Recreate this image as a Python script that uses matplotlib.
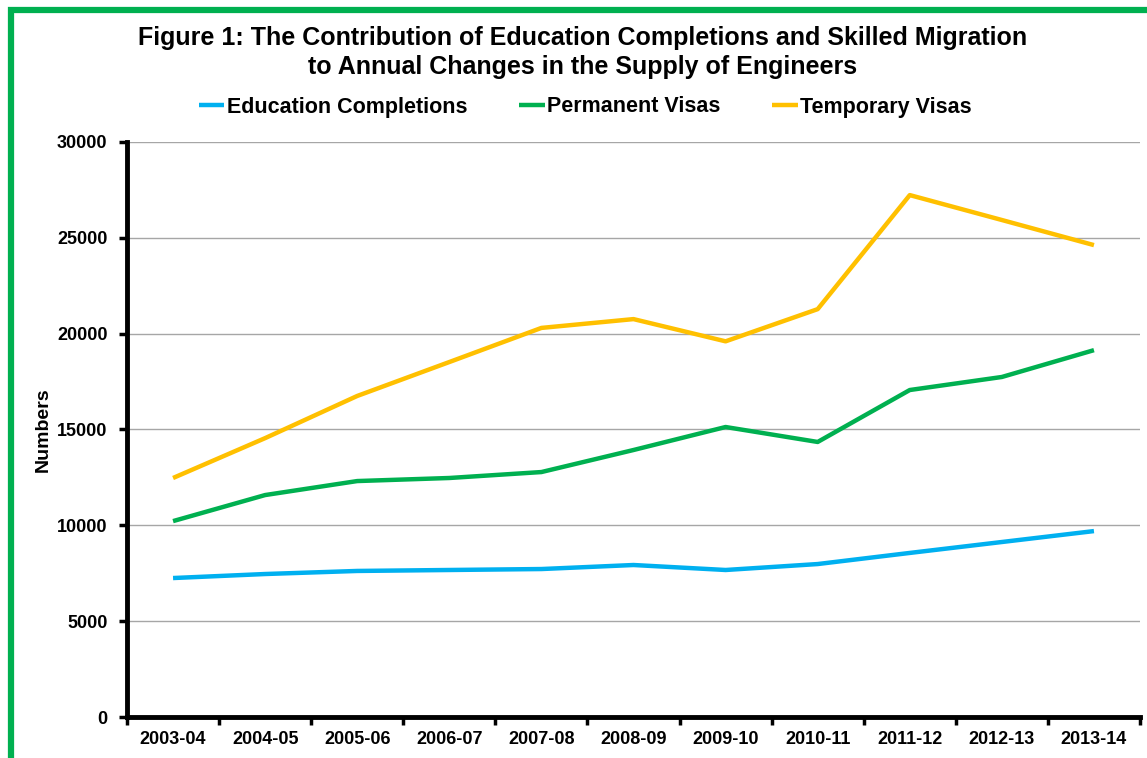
import matplotlib.pyplot as plt
from matplotlib.patches import Rectangle

plt.rcParams['font.family'] = ['Liberation Sans', 'DejaVu Sans']
plt.rcParams['font.weight'] = 'bold'

years = ["2003-04", "2004-05", "2005-06", "2006-07", "2007-08", "2008-09",
         "2009-10", "2010-11", "2011-12", "2012-13", "2013-14"]
education = [7250, 7460, 7620, 7670, 7720, 7930, 7670, 7980, 8560, 9130, 9700]
permanent = [10220, 11580, 12310, 12470, 12780, 13930, 15130, 14350, 17060, 17740, 19140]
temporary = [12470, 14550, 16750, 18520, 20300, 20760, 19600, 21280, 27230, 25930, 24620]

fig = plt.figure(figsize=(11.47, 7.58), dpi=100)
ax = fig.add_axes([127 / 1147, 1 - 717 / 758, (1140 - 127) / 1147, (717 - 142) / 758])

x = range(len(years))
ax.plot(x, education, color='#00B0F0', lw=3.2, label='Education Completions', solid_capstyle='butt')
ax.plot(x, permanent, color='#00B050', lw=3.2, label='Permanent Visas', solid_capstyle='butt')
ax.plot(x, temporary, color='#FFC000', lw=3.2, label='Temporary Visas', solid_capstyle='butt')

ax.set_xlim(-0.5, len(years) - 0.5)
ax.set_ylim(0, 30000)
ax.set_yticks(range(0, 30001, 5000))
ax.set_xticks(x)
ax.set_xticklabels(years)
ax.set_xticks([i - 0.5 for i in range(len(years) + 1)], minor=True)
ax.tick_params(axis='x', which='major', length=0, pad=10, labelsize=13)
ax.tick_params(axis='x', which='minor', length=6, width=2.5, direction='out')
ax.tick_params(axis='y', length=6, width=2.5, labelsize=13, pad=8)
ax.grid(axis='y', color='#A6A6A6', lw=1)
ax.set_axisbelow(True)
for s in ['top', 'right']:
    ax.spines[s].set_visible(False)
for s in ['left', 'bottom']:
    ax.spines[s].set_linewidth(3.5)
ax.set_ylabel('Numbers', fontsize=14, fontweight='bold', labelpad=4)

fig.text(0.508, 1 - 38 / 758, 'Figure 1: The Contribution of Education Completions and Skilled Migration',
         ha='center', va='center', fontsize=18, fontweight='bold')
fig.text(0.508, 1 - 67 / 758, 'to Annual Changes in the Supply of Engineers',
         ha='center', va='center', fontsize=18, fontweight='bold')
fig.legend(loc='center', bbox_to_anchor=(0.51, 1 - 107 / 758), ncol=3, frameon=False,
           fontsize=15.5, handlelength=1.2, handletextpad=0.1, columnspacing=2.4)

fig.patches.append(Rectangle((10.5 / 1147, -0.05), 1.2, 1.05 - 10.5 / 758, transform=fig.transFigure,
                             fill=False, edgecolor='#00B050', lw=4.5))

fig.savefig('out.png', dpi=100)
